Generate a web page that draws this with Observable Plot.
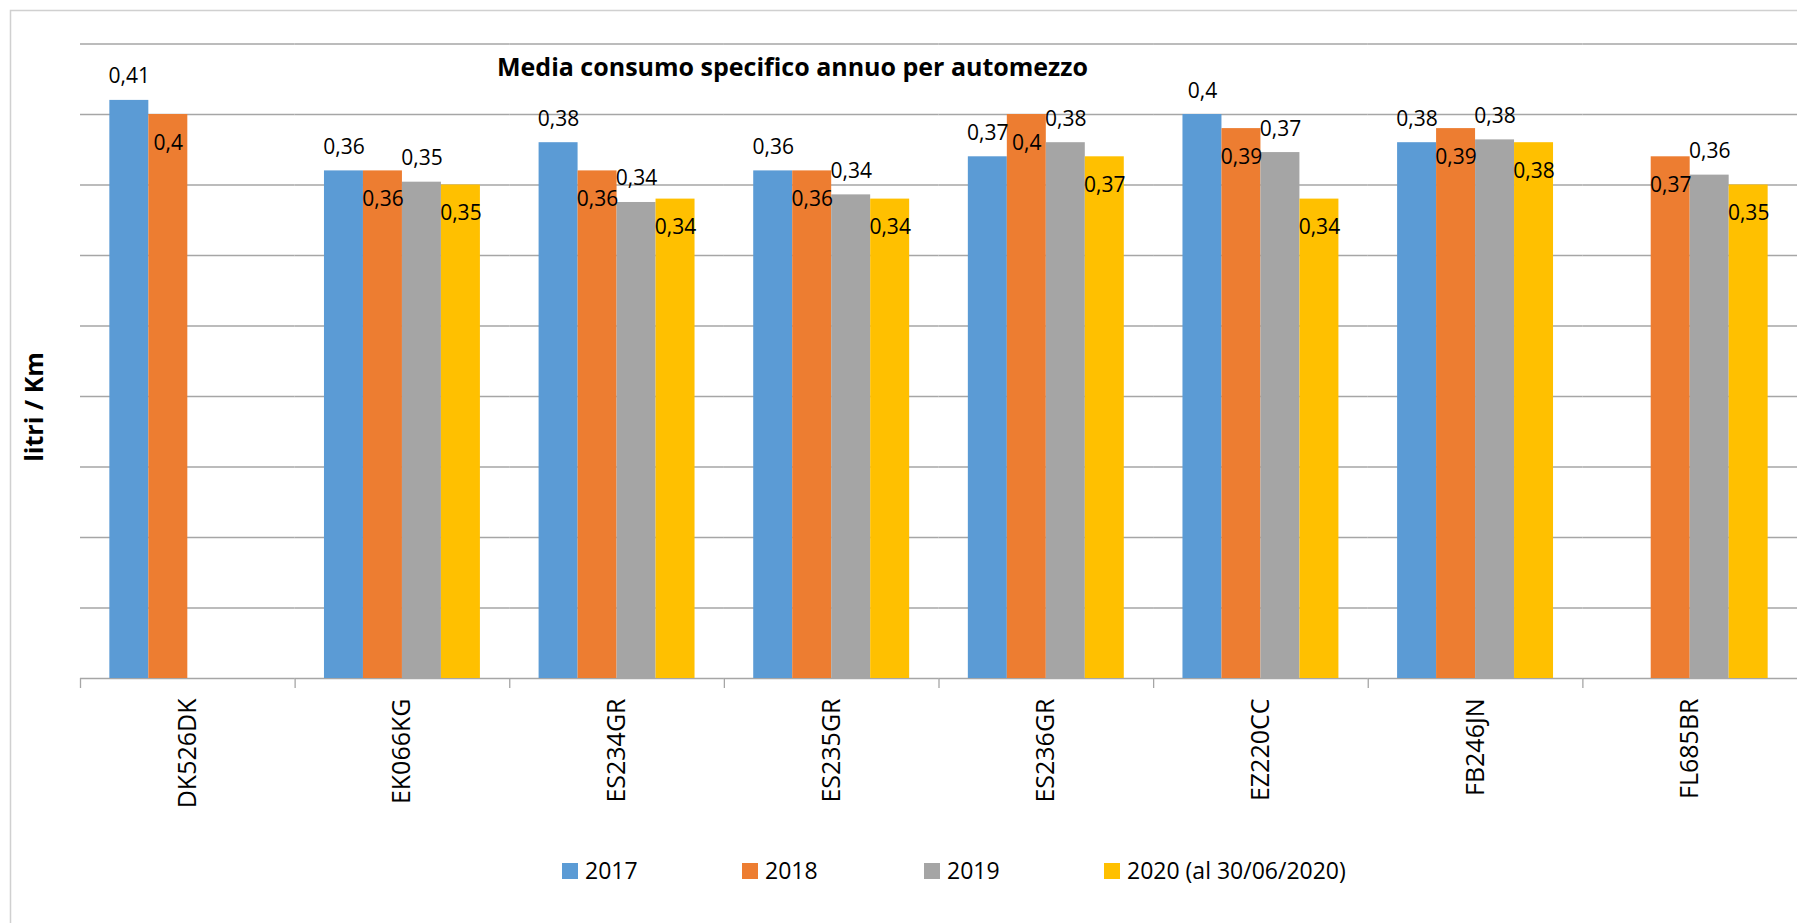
<!DOCTYPE html>
<html>
<head>
<meta charset="utf-8">
<script src="https://cdn.jsdelivr.net/npm/d3@7"></script>
<script src="https://cdn.jsdelivr.net/npm/@observablehq/plot@0.6"></script>
<style>
  html, body { margin: 0; padding: 0; background: #fff; }
  #wrap { position: relative; width: 1797px; height: 923px; overflow: hidden; font-family: "Open Sans", sans-serif; }
  #chart { position: absolute; left: 0; top: 0; }
  #overlay { position: absolute; left: 0; top: 0; pointer-events: none; }
</style>
</head>
<body>
<div id="wrap">
  <div id="chart"></div>
  <svg id="overlay" width="1797" height="923"></svg>
</div>
<script>
// ---- data ----
const categories = ["DK526DK", "EK066KG", "ES234GR", "ES235GR", "ES236GR", "EZ220CC", "FB246JN", "FL685BR"];
const series = ["2017", "2018", "2019", "2020 (al 30/06/2020)"];
const values2017 = [0.41, 0.36, 0.38, 0.36, 0.37, 0.40, 0.38, null];
const values2018 = [0.40, 0.36, 0.36, 0.36, 0.40, 0.39, 0.39, 0.37];
const values2019 = [null, 0.352, 0.3376, 0.343, 0.38, 0.373, 0.382, 0.357];
const values2020 = [null, 0.35, 0.34, 0.34, 0.37, 0.34, 0.38, 0.35];
const seriesColors = ["#5B9BD5", "#ED7D31", "#A5A5A5", "#FFC000"];
const gridTicks = [0, 0.05, 0.10, 0.15, 0.20, 0.25, 0.30, 0.35, 0.40, 0.45];
const chartTitle = "Media consumo specifico annuo per automezzo";
const yTitle = "litri / Km";

// ---- table ----
const seriesValues = [values2017, values2018, values2019, values2020];
const rows = [];
categories.forEach((c, i) => {
  series.forEach((s, j) => {
    const v = seriesValues[j][i];
    if (v != null) rows.push({cat: c, series: s, idx: j, value: v,
      label: String(Number(v.toFixed(2))).replace(".", ",")});
  });
});

const W = 1797, H = 820, ML = 80, MR = 0, MT = 43.5, MB = 142;
const facetBand = (W - ML - MR) / categories.length;
const gridColor = "#a6a6a6";

const plot = Plot.plot({
  width: W, height: H,
  marginLeft: ML, marginRight: MR, marginTop: MT, marginBottom: MB,
  style: {fontFamily: "Open Sans", background: "transparent", color: "#000"},
  fx: {domain: categories, padding: 0, round: false, label: null},
  x: {domain: series, paddingInner: 0, paddingOuter: 0.7526, round: false, axis: null},
  y: {domain: [0, 0.45], axis: null},
  color: {domain: series, range: seriesColors},
  marks: [
    Plot.ruleY(gridTicks, {stroke: gridColor, strokeWidth: 1.3}),
    Plot.barY(rows, {fx: "cat", x: "series", y: "value", fill: "series"}),
    Plot.text(rows.filter(d => d.idx % 2 === 0), {fx: "cat", x: "series", y: "value", text: "label",
      lineAnchor: "bottom", dy: -17, fontSize: 21, fill: "#000"}),
    Plot.text(rows.filter(d => d.idx % 2 === 1), {fx: "cat", x: "series", y: "value", text: "label",
      lineAnchor: "bottom", dy: 35, fontSize: 21, fill: "#000"}),
    // boundary tick marks between categories
    Plot.axisFx({anchor: "bottom", tickSize: 10, tickFormat: () => "", label: null,
      dx: -facetBand / 2, stroke: gridColor, strokeWidth: 1.3}),
    // category labels
    Plot.axisFx({anchor: "bottom", tickRotate: -90, tickSize: 0, tickPadding: 20, fontSize: 25, label: null})
  ]
});
document.getElementById("chart").appendChild(plot);

// ---- overlay: border, titles, legend ----
const ov = d3.select("#overlay");
ov.append("rect").attr("x", 10.5).attr("y", 10.5).attr("width", 2000).attr("height", 2000)
  .attr("fill", "none").attr("stroke", "#d0d0d0").attr("stroke-width", 1.5);
ov.append("text").attr("x", 792.5).attr("y", 76).attr("text-anchor", "middle")
  .attr("font-family", "Open Sans").attr("font-weight", "bold").attr("font-size", 25)
  .text(chartTitle);
ov.append("text").attr("transform", "translate(43,407) rotate(-90)").attr("text-anchor", "middle")
  .attr("font-family", "Open Sans").attr("font-weight", "bold").attr("font-size", 25)
  .text(yTitle);
const legendX = [562, 742, 924, 1104];
series.forEach((s, j) => {
  const g = ov.append("g").attr("transform", `translate(${legendX[j]},863)`);
  g.append("rect").attr("width", 16).attr("height", 16).attr("fill", seriesColors[j]);
  g.append("text").attr("x", 23).attr("y", 16).attr("font-family", "Open Sans").attr("font-size", 23).text(s);
});
</script>
</body>
</html>
